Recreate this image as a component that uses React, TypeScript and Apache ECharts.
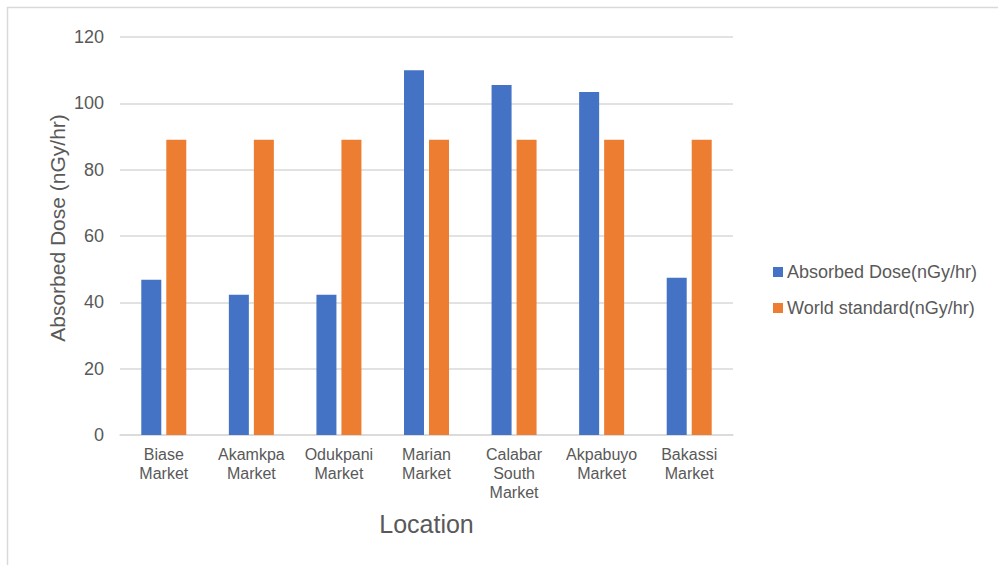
import React, { useEffect, useRef } from "react";
import * as echarts from "echarts";

const categories = [
  "Biase\nMarket",
  "Akamkpa\nMarket",
  "Odukpani\nMarket",
  "Marian\nMarket",
  "Calabar\nSouth\nMarket",
  "Akpabuyo\nMarket",
  "Bakassi\nMarket",
];
const absorbedDose = [46.8, 42.3, 42.3, 110, 105.5, 103.4, 47.4];
const worldStandard = [89, 89, 89, 89, 89, 89, 89];
const seriesNames = ["Absorbed Dose(nGy/hr)", "World standard(nGy/hr)"];
const yAxisTitle = "Absorbed Dose (nGy/hr)";
const xAxisTitle = "Location";

const FONT = "'Liberation Sans', Arial, sans-serif";
const GREY = "#595959";

export default function App() {
  const ref = useRef<HTMLDivElement>(null);
  useEffect(() => {
    if (!ref.current) return;
    const chart = echarts.init(ref.current, undefined, { renderer: "svg" });
    chart.setOption({
      animation: false,
      backgroundColor: "#ffffff",
      textStyle: { fontFamily: FONT },
      graphic: [
        {
          type: "rect",
          shape: { x: 7.5, y: 7.5, width: 1200, height: 1000 },
          style: { fill: "none", stroke: "#d9d9d9", lineWidth: 1.5 },
          silent: true,
        },
        {
          type: "text",
          x: 57,
          y: 228,
          rotation: Math.PI / 2,
          style: {
            text: yAxisTitle,
            fontFamily: FONT,
            fontSize: 21,
            fill: GREY,
            align: "center",
            verticalAlign: "middle",
          },
        },
      ],
      grid: { left: 120, right: 265, top: 37, bottom: 130 },
      legend: {
        orient: "vertical",
        left: 773,
        top: 263,
        padding: 0,
        itemWidth: 10,
        itemHeight: 10,
        itemGap: 18,
        icon: "rect",
        textStyle: { fontFamily: FONT, fontSize: 18, color: GREY, padding: [0, 0, 0, -1] },
        data: seriesNames,
      },
      xAxis: {
        type: "category",
        data: categories,
        axisLine: { lineStyle: { color: "#d9d9d9", width: 1.5 } },
        axisTick: { show: false },
        axisLabel: {
          fontFamily: FONT,
          fontSize: 16,
          color: GREY,
          lineHeight: 19,
          margin: 10,
          interval: 0,
        },
        name: xAxisTitle,
        nameLocation: "middle",
        nameGap: 76,
        nameTextStyle: { fontFamily: FONT, fontSize: 25, color: GREY },
      },
      yAxis: {
        type: "value",
        min: 0,
        max: 120,
        interval: 20,
        axisLine: { show: false },
        axisTick: { show: false },
        splitLine: { lineStyle: { color: "#d9d9d9", width: 1.5 } },
        axisLabel: { fontFamily: FONT, fontSize: 18, color: GREY, margin: 16 },
      },
      series: [
        {
          name: seriesNames[0],
          type: "bar",
          data: absorbedDose,
          barWidth: 20,
          barGap: "25%",
          itemStyle: { color: "#4472c4" },
        },
        {
          name: seriesNames[1],
          type: "bar",
          data: worldStandard,
          barWidth: 20,
          itemStyle: { color: "#ed7d31" },
        },
      ],
    });
    return () => chart.dispose();
  }, []);
  return (
    <div
      ref={ref}
      style={{ position: "absolute", left: 0, top: 0, width: 998, height: 565 }}
    />
  );
}
